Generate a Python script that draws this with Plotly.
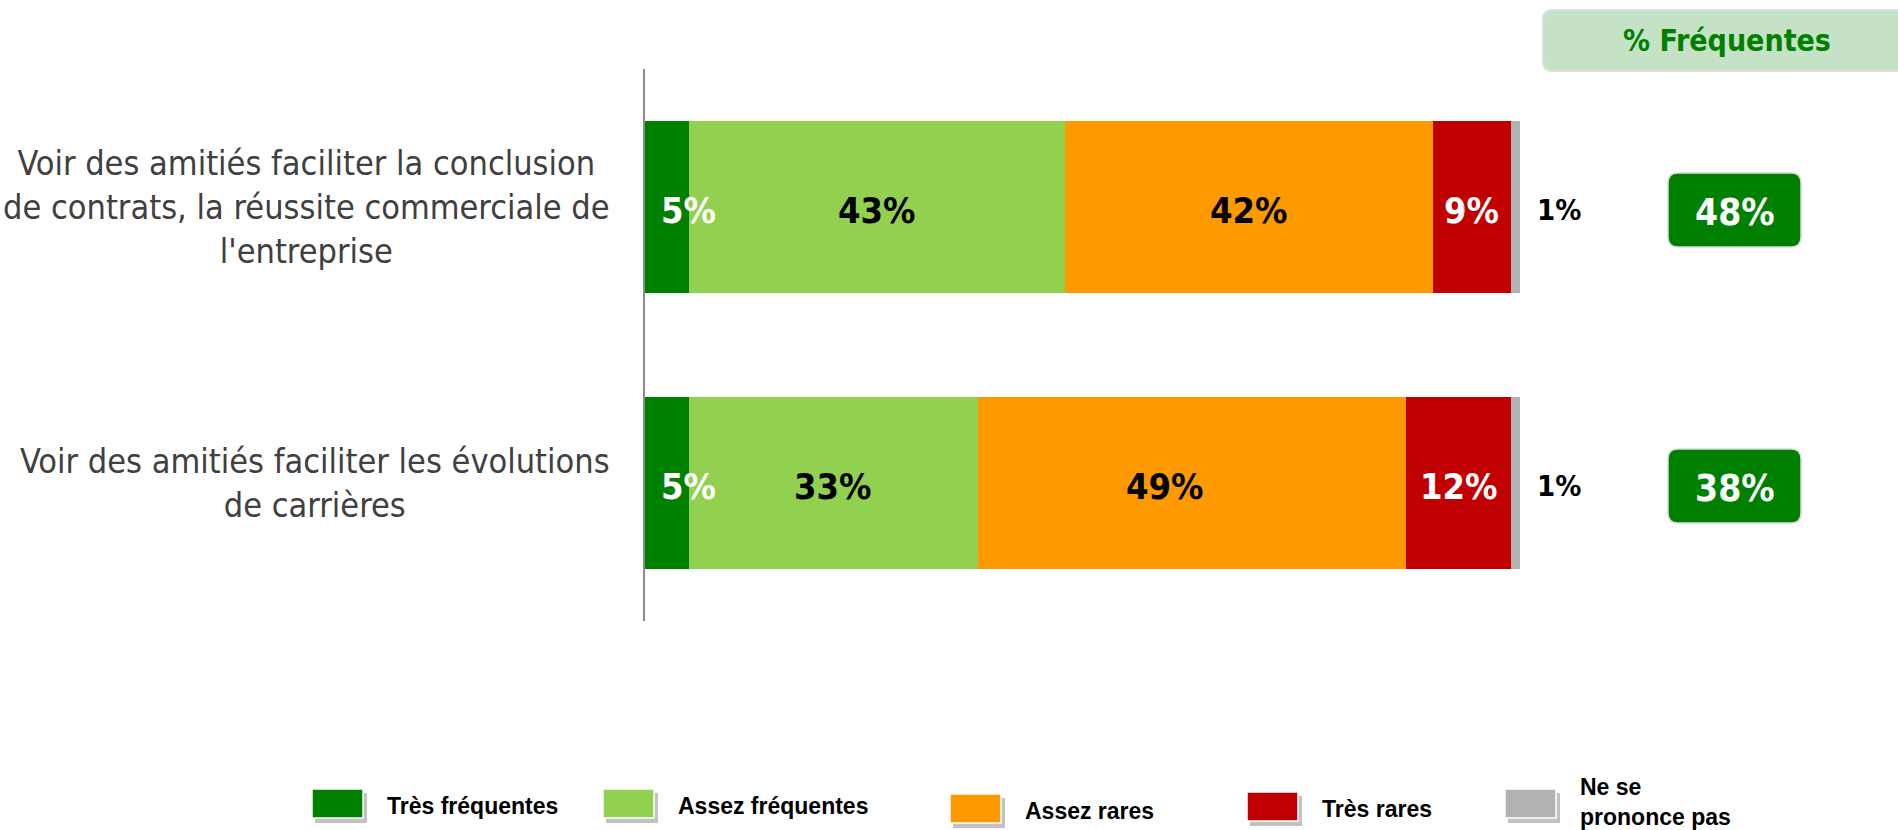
import plotly.graph_objects as go

# ---------------- data ----------------
categories = [
    "Voir des amitiés faciliter la conclusion<br>de contrats, la réussite commerciale de<br>l'entreprise",
    "Voir des amitiés faciliter les évolutions<br>de carrières",
]
series_names = ["Très fréquentes", "Assez fréquentes", "Assez rares", "Très rares", "Ne se<br>prononce pas"]
series_colors = ["#008000", "#92D050", "#FF9900", "#C00000", "#B2B2B2"]
label_colors = ["white", "black", "black", "white", "black"]
values = [
    [5, 5],    # Très fréquentes
    [43, 33],  # Assez fréquentes
    [42, 49],  # Assez rares
    [9, 12],   # Très rares
    [1, 1],    # Ne se prononce pas
]
freq_title = "% Fréquentes"

# ---------------- geometry ----------------
W, H = 1898, 830
x_dom = [645 / W, 1520 / W]
y_dom = [(H - 621) / H, (H - 69) / H]
n_cat = len(categories)
cat_idx = list(range(n_cat))

LABEL_FONT = "DejaVu Sans Condensed, DejaVu Sans, sans-serif"
BOLD_FONT = "DejaVu Sans Condensed, DejaVu Sans, sans-serif"
LEG_FONT = "Liberation Sans Narrow, Liberation Sans, Arial, sans-serif"

fig = go.Figure()
for name, col, vals in zip(series_names, series_colors, values):
    fig.add_trace(go.Bar(
        y=cat_idx, x=vals, orientation="h", name=name.replace("<br>", " "),
        marker=dict(color=col, line=dict(width=0)), width=0.623,
        showlegend=False, hoverinfo="x+name",
    ))

annotations = []
shapes = []

# segment labels
label_shift = {(0, 0): 22, (0, 1): 22, (2, 1): -27}
for ci in cat_idx:
    cum = 0
    for si, vals in enumerate(values):
        v = vals[ci]
        mid = cum + v / 2
        cum += v
        if si == len(values) - 1:
            annotations.append(dict(
                x=cum, y=ci, xref="x", yref="y", text=f"<b>{v}%</b>", showarrow=False,
                xanchor="center", yanchor="middle", xshift=39, yshift=-3,
                font=dict(family=BOLD_FONT, size=29, color="black")))
        else:
            annotations.append(dict(
                x=mid, y=ci, xref="x", yref="y", text=f"<b>{v}%</b>", showarrow=False,
                xanchor="center", yanchor="middle", xshift=label_shift.get((si, ci), 0), yshift=-3,
                font=dict(family=BOLD_FONT, size=36, color=label_colors[si])))

# category labels (centered lines, right edge near axis)
for ci, cat in enumerate(categories):
    annotations.append(dict(
        x=612 / W, y=ci, xref="paper", yref="y", text=cat, showarrow=False,
        xanchor="right", yanchor="middle", align="center",
        font=dict(family=LABEL_FONT, size=34, color="#404040")))


def rrect(x0, y0, x1, y1, r=9):
    # pixel coords (top-left origin) -> paper path with rounded corners
    def px(x):
        return x / W

    def py(y):
        return 1 - y / H
    return (f"M {px(x0 + r)},{py(y0)} L {px(x1 - r)},{py(y0)} "
            f"Q {px(x1)},{py(y0)} {px(x1)},{py(y0 + r)} L {px(x1)},{py(y1 - r)} "
            f"Q {px(x1)},{py(y1)} {px(x1 - r)},{py(y1)} L {px(x0 + r)},{py(y1)} "
            f"Q {px(x0)},{py(y1)} {px(x0)},{py(y1 - r)} L {px(x0)},{py(y0 + r)} "
            f"Q {px(x0)},{py(y0)} {px(x0 + r)},{py(y0)} Z")


# header box
shapes.append(dict(type="path", xref="paper", yref="paper", path=rrect(1543, 10, 1920, 71, 10),
                   fillcolor="#C6E2C6", line=dict(color="#DDDDDD", width=2), layer="below"))
annotations.append(dict(x=1727 / W, y=1 - 40 / H, xref="paper", yref="paper",
                        text=f"<b>{freq_title}</b>", showarrow=False,
                        xanchor="center", yanchor="middle",
                        font=dict(family=BOLD_FONT, size=30, color="#008000")))

# % fréquentes boxes
plot_top, plot_h = 69, 552
for ci in cat_idx:
    freq = values[0][ci] + values[1][ci]
    cy = plot_top + (ci + 0.5) / n_cat * plot_h + 3
    shapes.append(dict(type="path", xref="paper", yref="paper",
                       path=rrect(1668, cy - 37, 1801, cy + 37, 10),
                       fillcolor="#008000", line=dict(color="#D9D9D9", width=1.5)))
    annotations.append(dict(x=1734.5 / W, y=1 - cy / H, xref="paper", yref="paper",
                            text=f"<b>{freq}%</b>", showarrow=False, yshift=-2,
                            xanchor="center", yanchor="middle",
                            font=dict(family=BOLD_FONT, size=37, color="white")))

# custom legend
key_x = [312, 603, 950, 1247, 1505]
key_y = [789, 789, 794, 792, 789]
kw, kh = 51, 29
for name, col, kx, ky in zip(series_names, series_colors, key_x, key_y):
    # shadow
    shapes.append(dict(type="rect", xref="paper", yref="paper",
                       x0=(kx + 3) / W, x1=(kx + kw + 4) / W,
                       y0=1 - (ky + kh + 5) / H, y1=1 - (ky + 4) / H,
                       fillcolor="rgba(120,120,120,0.45)", line=dict(width=0)))
    shapes.append(dict(type="rect", xref="paper", yref="paper",
                       x0=kx / W, x1=(kx + kw) / W, y0=1 - (ky + kh) / H, y1=1 - ky / H,
                       fillcolor=col, line=dict(color="white", width=1.5)))
    two = "<br>" in name
    annotations.append(dict(x=(kx + kw + 22) / W, y=1 - (ky + kh / 2 + (-2 if two else 2)) / H,
                            xref="paper", yref="paper", text=f"<b>{name}</b>", showarrow=False,
                            xanchor="left", yanchor="middle", align="left",
                            font=dict(family=LEG_FONT, size=23, color="black")))

fig.update_layout(
    width=W, height=H, barmode="stack", bargap=0,
    margin=dict(l=0, r=0, t=0, b=0),
    paper_bgcolor="white", plot_bgcolor="white",
    xaxis=dict(domain=x_dom, range=[0, 100], visible=False, fixedrange=True),
    yaxis=dict(domain=y_dom, range=[n_cat - 0.5, -0.5], showticklabels=False,
               showgrid=False, zeroline=False, showline=True, linecolor="#8C8C8C",
               linewidth=1.5, ticks="", fixedrange=True),
    annotations=annotations, shapes=shapes, showlegend=False,
)

fig.write_html("out.html", config={"displayModeBar": False},
               post_script="document.body.style.margin='0';document.body.style.overflow='hidden';")
